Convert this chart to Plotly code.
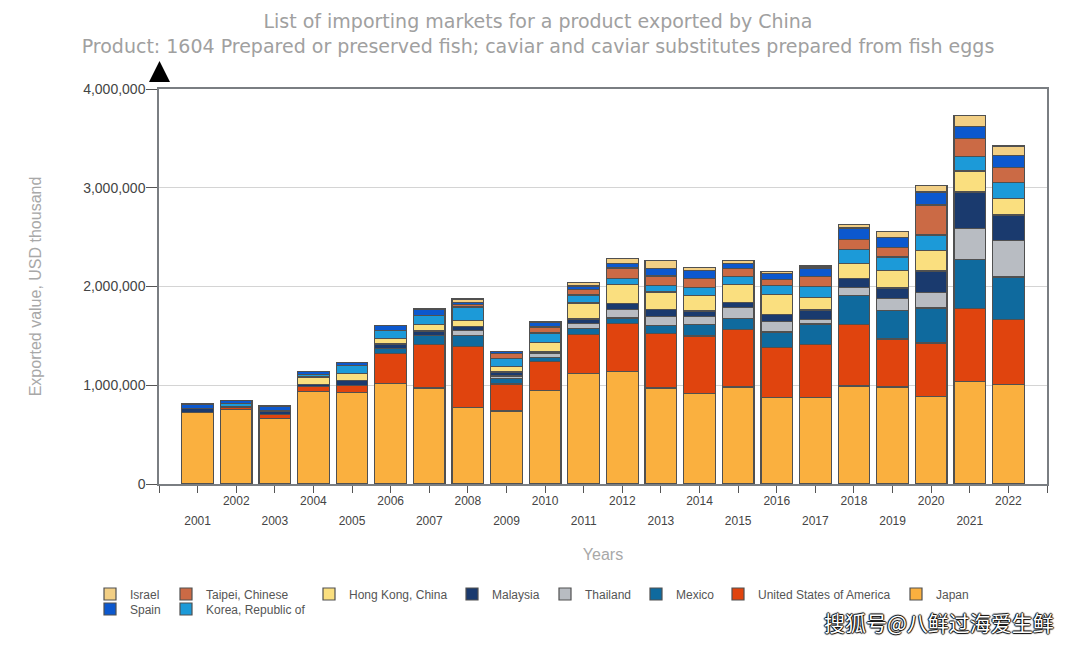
import plotly.graph_objects as go

years = list(range(2001, 2023))
japan = [725, 753, 662, 938, 925, 1016, 972, 773, 739, 949, 1117, 1141, 972, 918, 982, 874, 874, 992, 982, 884, 1040, 1006]
usa = [0, 18, 45, 51, 74, 307, 442, 621, 274, 293, 399, 483, 550, 581, 584, 507, 537, 621, 486, 544, 739, 662]
mexico = [0, 0, 0, 0, 0, 47, 91, 111, 54, 37, 57, 57, 84, 118, 111, 159, 209, 294, 290, 354, 496, 429]
thailand = [0, 0, 0, 0, 0, 0, 0, 51, 27, 40, 51, 84, 91, 81, 108, 105, 47, 84, 118, 159, 311, 368]
malaysia = [40, 15, 25, 20, 50, 47, 44, 40, 40, 17, 47, 61, 71, 54, 54, 74, 95, 91, 108, 216, 371, 260]
hong_kong = [0, 0, 15, 74, 74, 60, 68, 61, 57, 95, 162, 192, 176, 159, 182, 196, 128, 149, 182, 206, 213, 169]
korea = [0, 28, 0, 27, 78, 78, 91, 135, 81, 98, 81, 61, 68, 81, 81, 95, 111, 145, 132, 159, 145, 159]
taipei = [0, 0, 0, 0, 0, 0, 0, 25, 47, 61, 54, 108, 95, 91, 84, 64, 98, 98, 98, 304, 186, 152]
spain = [45, 30, 43, 30, 27, 50, 64, 22, 24, 51, 37, 44, 78, 78, 44, 57, 88, 118, 98, 132, 122, 122]
israel = [0, 0, 0, 0, 0, 0, 0, 34, 0, 0, 34, 51, 78, 34, 30, 17, 20, 34, 64, 68, 111, 95]

names = ["Japan", "United States of America", "Mexico", "Thailand", "Malaysia",
         "Hong Kong, China", "Korea, Republic of", "Taipei, Chinese", "Spain", "Israel"]
values = [japan, usa, mexico, thailand, malaysia, hong_kong, korea, taipei, spain, israel]
colors = ["#FAB03F", "#E0440E", "#0F6A9E", "#B8BCC2", "#1A3A6E",
          "#FADF7F", "#1C9AD8", "#CB6A45", "#0C58CE", "#F2CF85"]

W, H = 1080, 645
L, R, T, B = 159, 33, 89, 161
PW, PH = W - L - R, H - T - B

# left edge of each legend text, and row centre, in page pixels
legend_text_x = {"Israel": 130, "Spain": 130, "Taipei, Chinese": 206, "Korea, Republic of": 206,
                 "Hong Kong, China": 349, "Malaysia": 492, "Thailand": 585, "Mexico": 676,
                 "United States of America": 758, "Japan": 936}
legend_row_y = {"Spain": 609, "Korea, Republic of": 609}

fig = go.Figure()
layout_legends = {}
for i, (name, vals, col) in enumerate(zip(names, values, colors)):
    key = "legend" if i == 0 else f"legend{i+1}"
    fig.add_trace(go.Bar(
        x=years, y=[v * 1000 for v in vals], name=name, width=0.82,
        marker=dict(color=col, line=dict(color="#505050", width=1.2)),
        legend=key,
    ))
    xpx = legend_text_x[name] - 40
    ypx = legend_row_y.get(name, 594)
    layout_legends[key] = dict(
        x=(xpx - L) / PW, xanchor="left",
        y=1 - (ypx - T) / PH, yanchor="middle",
        bgcolor="rgba(0,0,0,0)", borderwidth=0,
        font=dict(family="Liberation Sans", size=12, color="#555555"),
    )

fig.add_trace(go.Scatter(x=[2001], y=[0], xaxis="x2", mode="markers",
                         marker=dict(opacity=0), showlegend=False, hoverinfo="skip"))

all_ticks = list(range(2000, 2024))
fig.update_layout(
    width=W, height=H,
    margin=dict(l=L, r=R, t=T, b=B, autoexpand=False),
    barmode="stack",
    plot_bgcolor="white", paper_bgcolor="white",
    title=dict(
        text="List of importing markets for a product exported by China<br>"
             "Product: 1604 Prepared or preserved fish; caviar and caviar substitutes prepared from fish eggs",
        x=538 / W, xanchor="center", y=1 - 28 / H, yanchor="middle",
        font=dict(family="DejaVu Sans", size=19, color="#a0a0a0"),
    ),
    xaxis=dict(
        range=[2000, 2023], tickmode="array", tickvals=all_ticks,
        ticktext=[str(y) if y % 2 == 0 and 2001 <= y <= 2022 else "" for y in all_ticks],
        ticks="outside", ticklen=7, tickcolor="#555555", tickwidth=1,
        tickangle=0, ticklabelstandoff=-2,
        showline=True, linecolor="#7a7e82", linewidth=1.5, mirror=True, showgrid=False,
        tickfont=dict(family="Liberation Sans", size=12, color="#444444"),
        title=dict(text="Years", standoff=42,
                   font=dict(family="Liberation Sans", size=16, color="#a8a8a8")),
    ),
    xaxis2=dict(
        overlaying="x", side="bottom", anchor="y", range=[2000, 2023], tickmode="array",
        tickvals=[y for y in years if y % 2 == 1], ticktext=[str(y) for y in years if y % 2 == 1],
        ticks="outside", ticklen=26, tickcolor="rgba(0,0,0,0)", tickangle=0,
        showline=False, showgrid=False,
        tickfont=dict(family="Liberation Sans", size=12, color="#444444"),
    ),
    yaxis=dict(
        range=[0, 4000000], tickmode="array", tickvals=[0, 1000000, 2000000, 3000000, 4000000],
        tickformat=",d", ticks="outside", ticklen=11, tickcolor="#555555", ticklabelstandoff=-2,
        showline=True, linecolor="#7a7e82", linewidth=1.5, mirror=True,
        showgrid=True, gridcolor="#d4d4d4", gridwidth=1, zeroline=False,
        tickfont=dict(family="Liberation Sans", size=14, color="#444444"),
        title=dict(text="Exported value, USD thousand", standoff=38,
                   font=dict(family="Liberation Sans", size=16, color="#a8a8a8")),
    ),
    shapes=[dict(type="path", xref="paper", yref="paper", fillcolor="black", line=dict(width=0),
                 path=f"M {(159.5-L)/PW} {1-(61-T)/PH} L {(149-L)/PW} {1-(82-T)/PH} L {(170-L)/PW} {1-(82-T)/PH} Z")],
    annotations=[dict(
        text="搜狐号@八鲜过海爱生鲜", xref="paper", yref="paper", showarrow=False,
        x=(1056 - L) / PW, xanchor="right", y=1 - (622 - T) / PH, yanchor="middle",
        font=dict(family="Noto Sans CJK SC", size=21, color="white",
                  shadow="-1px 0 1px #000, 1px 0 1px #000, 0 -1px 1px #000, 0 1px 1px #000"),
    )],
    **layout_legends,
)

fig.write_html("out.html", config={"displayModeBar": False},
               post_script="document.body.style.margin='0';")
